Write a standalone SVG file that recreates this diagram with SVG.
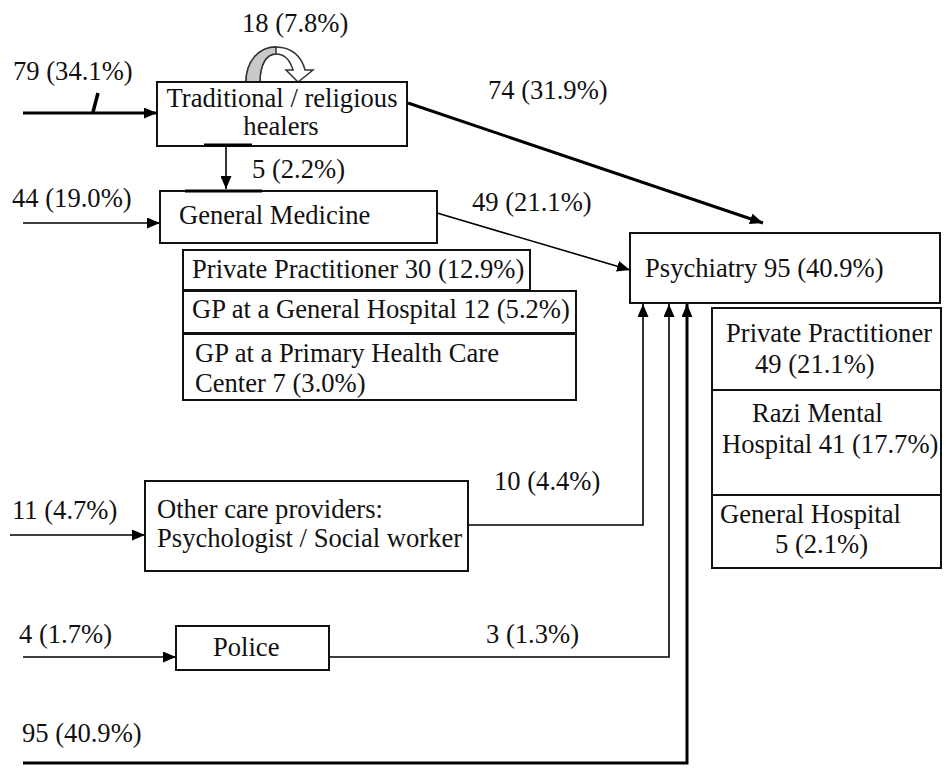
<svg xmlns="http://www.w3.org/2000/svg" width="946" height="773" viewBox="0 0 946 773">
<style>
text{font-size:26.6px;fill:#111}
.box{fill:#fff;stroke:#111;stroke-width:2}
.ln{fill:none;stroke:#000;stroke-width:1.6}
.thk{fill:none;stroke:#000;stroke-width:3}
</style>
<defs>
<marker id="ah" markerUnits="userSpaceOnUse" markerWidth="13" markerHeight="11" refX="13" refY="5.5" orient="auto" viewBox="0 0 13 11">
<path d="M0,0 L13,5.5 L0,11 z" fill="#000"/>
</marker>
</defs>
<rect width="946" height="773" fill="#fff"/>
<g font-family="Liberation Serif, Tinos, Times New Roman, DejaVu Serif, serif">
<g id="connectors">
<line class="thk" x1="23" y1="113" x2="157" y2="113" marker-end="url(#ah)"/>
<line x1="98" y1="93" x2="93" y2="112" stroke="#000" stroke-width="3.5"/>
<line class="ln" x1="23" y1="223" x2="160" y2="223" marker-end="url(#ah)"/>
<line class="ln" x1="10" y1="535" x2="145" y2="535" marker-end="url(#ah)"/>
<line class="ln" x1="23" y1="657" x2="176" y2="657" marker-end="url(#ah)"/>
<path d="M246,82 C246,61 259,47 276,47 C292,47 302,57 305,70 L313,70 L298,82 L286,70 L293,70 C290,60 284,54 276,54 C266,54 260,65 260,82 Z" fill="#fff" stroke="#333" stroke-width="1.5"/>
<path d="M246,82 C246,61 259,47 276,47 L276,54 C266,54 260,65 260,82 Z" fill="#c8c8c8" stroke="#333" stroke-width="1.5"/>
<line class="ln" x1="226" y1="146" x2="226" y2="189" marker-end="url(#ah)"/>
<line class="thk" x1="408" y1="103" x2="763" y2="223" marker-end="url(#ah)"/>
<line class="ln" x1="437" y1="213" x2="630" y2="270" marker-end="url(#ah)"/>
<polyline class="ln" points="468,525 643,525 643,304" marker-end="url(#ah)"/>
<polyline class="ln" points="329,657 669,657 669,304" marker-end="url(#ah)"/>
<polyline class="thk" points="23,763 687,763 687,304" marker-end="url(#ah)"/>
<text x="13" y="80">79 (34.1%)</text>
<text x="242" y="32">18 (7.8%)</text>
<text x="252" y="178">5 (2.2%)</text>
<text x="488" y="99">74 (31.9%)</text>
<text x="12" y="207">44 (19.0%)</text>
<text x="472" y="211">49 (21.1%)</text>
<text x="12" y="519">11 (4.7%)</text>
<text x="494" y="490">10 (4.4%)</text>
<text x="19" y="643">4 (1.7%)</text>
<text x="486" y="643">3 (1.3%)</text>
<text x="22" y="742">95 (40.9%)</text>
</g>

<g id="traditional">
<rect class="box" x="157" y="82" width="250" height="64"/>
<line x1="204" y1="145" x2="252" y2="145" stroke="#000" stroke-width="3"/>
<text x="282" y="107" text-anchor="middle">Traditional / religious</text>
<text x="281" y="135" text-anchor="middle">healers</text>
</g>

<g id="general-medicine">
<rect class="box" x="160" y="191" width="277" height="52"/>
<line x1="185" y1="191" x2="262" y2="191" stroke="#000" stroke-width="3"/>
<text x="179" y="224">General Medicine</text>
</g>

<g id="gm-private">
<rect class="box" x="183" y="250" width="347" height="40"/>
<text x="192" y="278">Private Practitioner 30 (12.9%)</text>
</g>
<g id="gm-general-hospital">
<rect class="box" x="183" y="291" width="393" height="42"/>
<text x="192" y="318">GP at a General Hospital 12 (5.2%)</text>
</g>
<g id="gm-phc">
<rect class="box" x="183" y="334" width="393" height="66"/>
<text x="195" y="362">GP at a Primary Health Care</text>
<text x="195" y="392">Center 7 (3.0%)</text>
</g>

<g id="psychiatry">
<rect class="box" x="630" y="233" width="310" height="70"/>
<text x="645" y="277">Psychiatry 95 (40.9%)</text>
</g>
<g id="psy-private">
<rect class="box" x="712" y="308" width="229" height="82"/>
<text x="726" y="342">Private Practitioner</text>
<text x="755" y="373">49 (21.1%)</text>
</g>
<g id="psy-razi">
<rect class="box" x="712" y="390" width="229" height="105"/>
<text x="752" y="422">Razi Mental</text>
<text x="722" y="453">Hospital 41 (17.7%)</text>
</g>
<g id="psy-general">
<rect class="box" x="712" y="495" width="229" height="73"/>
<text x="720" y="523">General Hospital</text>
<text x="775" y="553">5 (2.1%)</text>
</g>

<g id="other">
<rect class="box" x="145" y="481" width="323" height="90"/>
<text x="157" y="518">Other care providers:</text>
<text x="157" y="547">Psychologist / Social worker</text>
</g>

<g id="police">
<rect class="box" x="176" y="626" width="153" height="44"/>
<text x="213" y="656">Police</text>
</g>
</g>
</svg>
